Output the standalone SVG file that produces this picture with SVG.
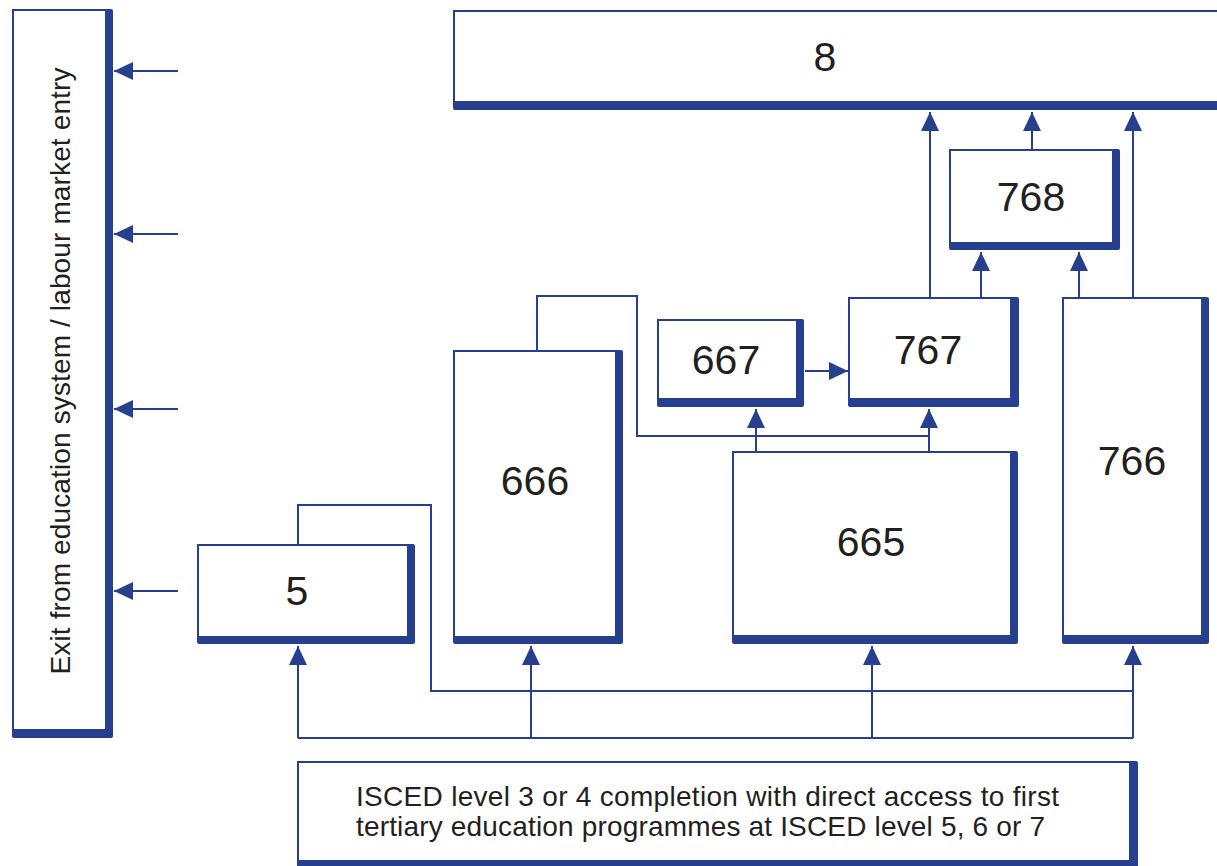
<svg xmlns="http://www.w3.org/2000/svg" width="1217" height="866" viewBox="0 0 1217 866">
<defs>
<style>
.sh{fill:#263f8e}
.bx{fill:#ffffff;stroke:#263f8e;stroke-width:2}
.num{font-family:"Liberation Sans",Arial,sans-serif;font-size:41px;fill:#231f20;text-anchor:middle}
.lbl{font-family:"Liberation Sans",Arial,sans-serif;font-size:28px;fill:#231f20}
.ln{fill:none;stroke:#263f8e;stroke-width:2}
.ar{fill:none;stroke:#263f8e;stroke-width:2;marker-end:url(#ah)}
</style>
<marker id="ah" markerUnits="userSpaceOnUse" markerWidth="20" markerHeight="18" viewBox="0 0 20 18" refX="19" refY="9" orient="auto">
<path d="M0,0 L19,9 L0,18 z" fill="#263f8e"/>
</marker>
</defs>
<rect width="1217" height="866" fill="#ffffff"/>

<g id="node-exit">
<rect class="sh" x="12" y="9" width="101" height="729" rx="2"/>
<rect class="bx" x="13" y="10" width="93" height="720"/>
<text class="lbl" transform="translate(70,371) rotate(-90)" text-anchor="middle" textLength="607" lengthAdjust="spacing">Exit from education system / labour market entry</text>
</g>

<g id="node-8">
<rect class="sh" x="453" y="10" width="810" height="100" rx="2"/>
<rect class="bx" x="454" y="11" width="800" height="91"/>
<text class="num" x="825" y="71">8</text>
</g>

<g id="node-768">
<rect class="sh" x="949" y="149" width="171" height="101" rx="2"/>
<rect class="bx" x="950" y="150" width="163" height="93"/>
<text class="num" x="1031" y="211">768</text>
</g>

<g id="node-767">
<rect class="sh" x="848" y="297" width="171" height="110" rx="2"/>
<rect class="bx" x="849" y="298" width="162" height="101"/>
<text class="num" x="928" y="364">767</text>
</g>

<g id="node-667">
<rect class="sh" x="657" y="319" width="147" height="88" rx="2"/>
<rect class="bx" x="658" y="320" width="139" height="79"/>
<text class="num" x="726" y="374">667</text>
</g>

<g id="node-766">
<rect class="sh" x="1062" y="297" width="147" height="347" rx="2"/>
<rect class="bx" x="1063" y="298" width="139" height="338"/>
<text class="num" x="1132" y="475">766</text>
</g>

<g id="node-666">
<rect class="sh" x="453" y="350" width="170" height="294" rx="2"/>
<rect class="bx" x="454" y="351" width="162" height="286"/>
<text class="num" x="535" y="495">666</text>
</g>

<g id="node-665">
<rect class="sh" x="732" y="451" width="286" height="193" rx="2"/>
<rect class="bx" x="733" y="452" width="278" height="184"/>
<text class="num" x="871" y="556">665</text>
</g>

<g id="node-5">
<rect class="sh" x="197" y="544" width="218" height="100" rx="2"/>
<rect class="bx" x="198" y="545" width="210" height="92"/>
<text class="num" x="297" y="605">5</text>
</g>

<g id="node-isced34">
<rect class="sh" x="297" y="761" width="841" height="108" rx="2"/>
<rect class="bx" x="298" y="762" width="832" height="99"/>
<text class="lbl" x="356" y="806" textLength="703" lengthAdjust="spacing">ISCED level 3 or 4 completion with direct access to first</text>
<text class="lbl" x="356" y="836" textLength="689" lengthAdjust="spacing">tertiary education programmes at ISCED level 5, 6 or 7</text>
</g>

<g id="connectors">
<path class="ar" d="M178,71 H114"/>
<path class="ar" d="M178,234 H114"/>
<path class="ar" d="M178,409 H114"/>
<path class="ar" d="M178,591 H114"/>
<path class="ar" d="M930,298 V112"/>
<path class="ar" d="M1032,150 V112"/>
<path class="ar" d="M1133,298 V112"/>
<path class="ar" d="M981,298 V252"/>
<path class="ar" d="M1079,298 V252"/>
<path class="ar" d="M805,371 H848"/>
<path class="ar" d="M756,452 V409"/>
<path class="ar" d="M929,452 V409"/>
<path class="ln" d="M537,351 V296 H637 V436 H929"/>
<path class="ln" d="M298,545 V505 H431 V691 H1133"/>
<path class="ln" d="M298,738 H1133"/>
<path class="ar" d="M298,738 V646"/>
<path class="ar" d="M531,738 V646"/>
<path class="ar" d="M872,738 V646"/>
<path class="ar" d="M1133,738 V646"/>
</g>
</svg>
